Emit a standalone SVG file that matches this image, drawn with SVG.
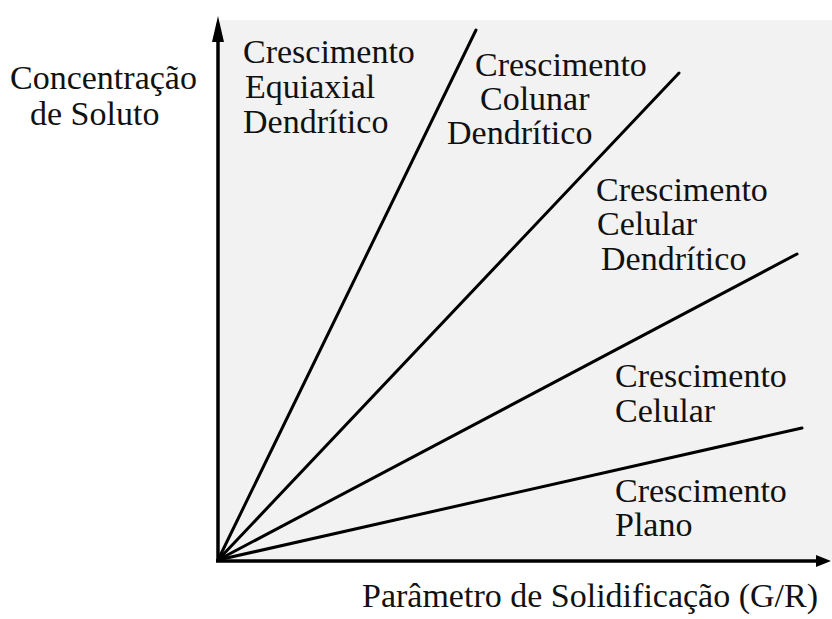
<svg xmlns="http://www.w3.org/2000/svg" width="832" height="619" viewBox="0 0 832 619">
  <style>
    .t { font-family: "Liberation Serif", "Times New Roman", serif; font-size: 34px; fill: #111; }
    .ax { stroke: #000; stroke-width: 3.5; fill: none; }
    .ln { stroke: #000; stroke-width: 3; fill: none; stroke-linecap: round; }
  </style>
  <rect width="832" height="619" fill="#fff"/>
  <rect id="plot-area" x="220" y="20" width="612" height="540" fill="#f2f2f2"/>

  <g id="connectors">
    <line class="ln" x1="218" y1="560" x2="476" y2="30"/>
    <line class="ln" x1="218" y1="560" x2="679" y2="73"/>
    <line class="ln" x1="218" y1="560" x2="797" y2="254"/>
    <line class="ln" x1="218" y1="560" x2="802" y2="428"/>
  </g>

  <g id="axes">
    <line class="ax" x1="218" y1="562" x2="218" y2="36"/>
    <path d="M218,16 L212,42 L224,42 Z" fill="#000"/>
    <line class="ax" x1="216" y1="561" x2="818" y2="561"/>
    <path d="M831,561 L816,555 L816,567 Z" fill="#000"/>
  </g>

  <g id="y-label">
    <text class="t" x="10" y="89">Concentração</text>
    <text class="t" x="30" y="125">de Soluto</text>
  </g>
  <g id="x-label">
    <text class="t" x="362" y="607">Parâmetro de Solidificação (G/R)</text>
  </g>

  <g id="equiaxial-dendritico">
    <text class="t" x="243" y="63">Crescimento</text>
    <text class="t" x="245" y="98">Equiaxial</text>
    <text class="t" x="243" y="133">Dendrítico</text>
  </g>
  <g id="colunar-dendritico">
    <text class="t" x="475" y="76">Crescimento</text>
    <text class="t" x="480" y="110">Colunar</text>
    <text class="t" x="447" y="144">Dendrítico</text>
  </g>
  <g id="celular-dendritico">
    <text class="t" x="596" y="201">Crescimento</text>
    <text class="t" x="597" y="235">Celular</text>
    <text class="t" x="601" y="270">Dendrítico</text>
  </g>
  <g id="celular">
    <text class="t" x="615" y="387">Crescimento</text>
    <text class="t" x="615" y="422">Celular</text>
  </g>
  <g id="plano">
    <text class="t" x="615" y="502">Crescimento</text>
    <text class="t" x="615" y="536">Plano</text>
  </g>
</svg>
